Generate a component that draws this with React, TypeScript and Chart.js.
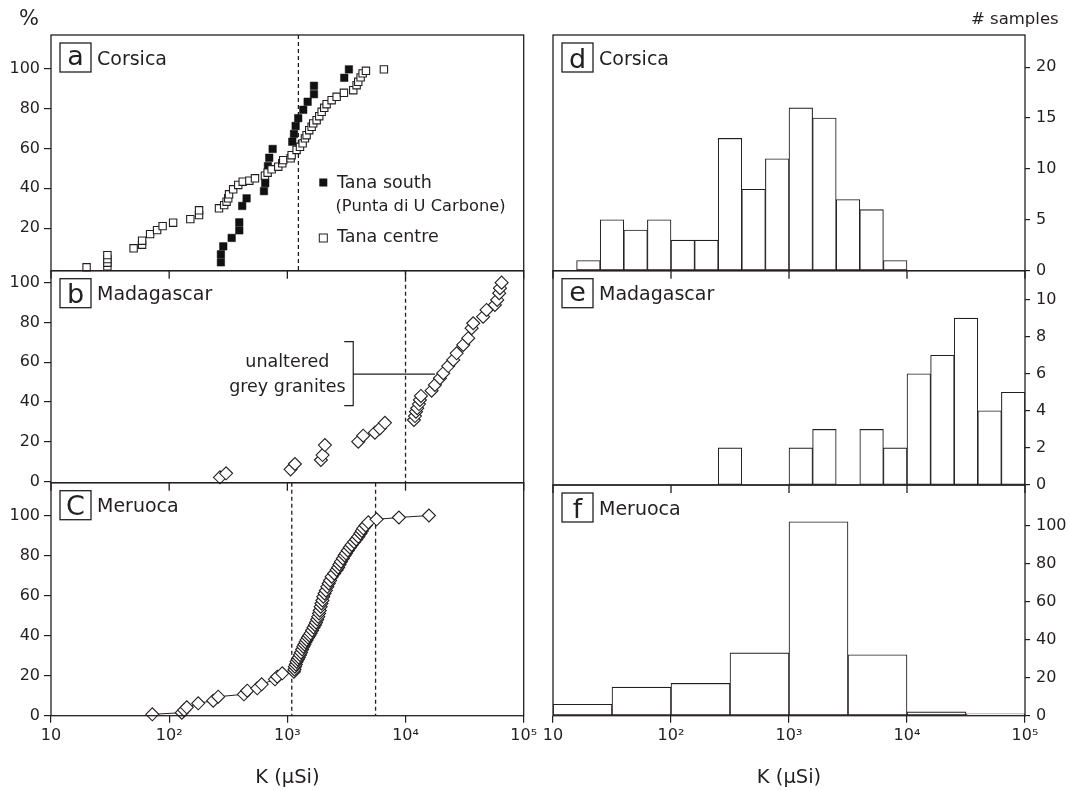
import React, { useEffect, useRef } from 'react';
import { Chart, registerables } from 'chart.js';

Chart.register(...registerables);

const FONT = "'DejaVu Sans', 'Liberation Sans', sans-serif";
const INK = '#231f20';

// ---------- axis ticks ----------
const kDecades = [10, 100, 1000, 10000, 100000];
const kDecadeLabels = ['10', '10²', '10³', '10⁴', '10⁵'];
const pctTicksTop = [20, 40, 60, 80, 100];
const pctTicks = [0, 20, 40, 60, 80, 100];
const countTicksCorsica = [0, 5, 10, 15, 20];
const countTicksMadagascar = [0, 2, 4, 6, 8, 10];
const countTicksMeruoca = [0, 20, 40, 60, 80, 100];

// ---------- (a) Corsica cumulative % ----------
const tanaSouthK = [274, 274, 287, 338, 392, 392, 415, 452, 634, 650, 685, 703, 751, 1101, 1138, 1175, 1236, 1363, 1485, 1680, 1680, 3030, 3318];
const tanaSouthPct = [3.0, 7.0, 11.0, 15.2, 19.0, 23.0, 31.2, 35.0, 38.6, 42.6, 51.1, 55.3, 59.7, 63.3, 67.2, 71.2, 75.1, 79.3, 83.3, 87.1, 91.3, 95.3, 99.5];
const tanaCentreK = [20, 30, 30, 30, 30, 50, 59, 59, 69, 79, 88, 108, 151, 179, 179, 264, 292, 306, 316, 321, 348, 384, 419, 477, 532, 646, 681, 736, 838, 906, 923, 1066, 1087, 1197, 1279, 1347, 1409, 1455, 1532, 1606, 1656, 1769, 1862, 1950, 2052, 2148, 2369, 2612, 3012, 3612, 3855, 3981, 4169, 4335, 4624, 6561];
const tanaCentrePct = [0.5, 1.0, 2.8, 4.6, 6.6, 10.0, 11.8, 13.8, 17.1, 19.1, 21.1, 22.8, 24.6, 26.6, 29.0, 30.0, 31.6, 33.3, 35.0, 37.0, 39.5, 41.7, 43.3, 43.8, 45.0, 46.3, 47.8, 49.5, 50.8, 52.5, 54.1, 55.0, 56.6, 59.2, 60.8, 62.5, 65.0, 66.6, 69.1, 70.8, 72.5, 74.1, 76.1, 78.3, 80.3, 82.1, 84.1, 85.8, 87.8, 89.1, 91.6, 93.3, 95.5, 97.5, 98.8, 99.5];
const corsicaRefK = [1240];

// ---------- (b) Madagascar cumulative % ----------
const madagascarK = [269, 303, 1066, 1159, 1923, 1986, 2078, 3981, 4385, 5508, 6068, 6692, 11780, 12020, 12260, 12560, 12980, 13240, 13500, 16620, 17740, 19550, 20850, 22980, 25350, 27050, 30780, 33940, 36230, 37410, 45400, 48500, 57060, 59700, 62060, 62950, 65060];
const madagascarPct = [2.2, 4.2, 6.2, 8.9, 10.9, 13.4, 18.4, 20.1, 23.1, 24.6, 26.8, 29.6, 31.0, 33.0, 35.2, 36.9, 39.0, 41.1, 43.1, 45.7, 48.6, 52.0, 54.5, 58.1, 61.2, 64.5, 68.7, 72.1, 77.1, 79.6, 82.9, 86.3, 88.8, 91.3, 94.7, 97.2, 100];
const madagascarRefK = [10000];
const graniteNoteLines = ['unaltered', 'grey granites'];
const graniteNoteK = 1000;
const graniteNotePct = [57.8, 45.2];
const graniteBracketK = 3610;
const graniteBracketPct = [70.4, 38.2];
const granitePointerPct = 54;
const granitePointerK = 17740;

// ---------- (c) Meruoca cumulative % ----------
const meruocaK = [72, 128, 134, 141, 176, 236, 260, 429, 458, 556, 606, 785, 822, 906, 1137, 1150, 1159, 1180, 1197, 1225, 1250, 1279, 1305, 1335, 1365, 1395, 1425, 1456, 1495, 1535, 1574, 1620, 1665, 1713, 1750, 1790, 1826, 1855, 1880, 1914, 1945, 1980, 2015, 2065, 2120, 2179, 2240, 2300, 2372, 2490, 2614, 2690, 2760, 2841, 2950, 3050, 3131, 3250, 3380, 3499, 3670, 3820, 3983, 4150, 4270, 4389, 4600, 4840, 5690, 8790, 15780];
const meruocaPct = [0.6, 1.4, 2.7, 4.1, 6.1, 7.4, 9.4, 10.6, 12.4, 13.6, 15.6, 18.1, 19.4, 21.1, 21.9, 23.0, 24.4, 25.5, 26.9, 28.0, 29.0, 30.3, 31.5, 33.0, 34.4, 35.5, 36.7, 37.8, 39.0, 40.0, 41.1, 42.5, 44.0, 45.3, 46.5, 48.0, 49.4, 51.0, 52.5, 54.4, 56.0, 57.5, 59.4, 61.0, 62.5, 64.4, 66.0, 67.5, 69.4, 71.0, 72.8, 74.0, 75.5, 76.9, 78.5, 80.0, 81.1, 82.5, 84.0, 85.3, 86.8, 88.0, 89.4, 91.0, 92.3, 93.6, 95.0, 96.6, 98.1, 99.0, 100];
const meruocaRefK = [1090, 5580];

// ---------- histograms (bin start as log10 K, bin width in decades) ----------
const corsicaBinStart = [1.2, 1.4, 1.6, 1.8, 2.0, 2.2, 2.4, 2.6, 2.8, 3.0, 3.2, 3.4, 3.6, 3.8];
const corsicaCounts = [1, 5, 4, 5, 3, 3, 13, 8, 11, 16, 15, 7, 6, 1];
const corsicaBinWidth = 0.2;
const madagascarBinStart = [2.4, 3.0, 3.2, 3.6, 3.8, 4.0, 4.2, 4.4, 4.6, 4.8];
const madagascarCounts = [2, 2, 3, 3, 2, 6, 7, 9, 4, 5];
const madagascarBinWidth = 0.2;
const meruocaBinStart = [1.0, 1.5, 2.0, 2.5, 3.0, 3.5, 4.0, 4.5];
const meruocaCounts = [6, 15, 17, 33, 102, 32, 2, 1];
const meruocaBinWidth = 0.5;

// ---------- layout ----------
const PAGE_W = 1070;
const PAGE_H = 791;
const LEFT_COL = { left: 51, right: 523.7 };
const RIGHT_COL = { left: 553, right: 1025 };
const Y_LEFT_W = 51;
const Y_RIGHT_W = 45;
const X_AXIS_H = 74;

type Panel = {
  kind: 'scatter' | 'hist';
  col: { left: number; right: number };
  top: number;
  bottom: number;
  yMin: number;
  yMax: number;
  yTicks: number[];
  showX: boolean;
  topTicks: boolean;
  letter: string;
  title: string;
  dashed?: number[];
  datasets: any[];
  extra?: (chart: any) => void;
};

const font = (size: number) => `${size}px ${FONT}`;

function pts(xs: number[], ys: number[]) {
  return xs.map((x, i) => ({ x, y: ys[i] }));
}

function histData(starts: number[], counts: number[], width: number) {
  return starts.map((s, i) => ({ x: Math.pow(10, s + width / 2), y: counts[i] }));
}

const openSquare = { pointStyle: 'rect', pointRadius: 5.2, pointBackgroundColor: '#fff', pointBorderColor: INK, pointBorderWidth: 1.1, showLine: false, clip: false };
const diamond = { pointStyle: 'rectRot', pointRadius: 6.5, pointBackgroundColor: '#fff', pointBorderColor: INK, pointBorderWidth: 1.1, clip: false };
const barStyle = { backgroundColor: '#fff', borderColor: INK, borderWidth: 1.1, barPercentage: 1, categoryPercentage: 1, borderSkipped: false };

function drawLegendA(chart: any) {
  const { ctx } = chart;
  ctx.save();
  ctx.fillStyle = '#111';
  ctx.fillRect(319.3, 178.5, 8, 8);
  ctx.fillStyle = '#fff';
  ctx.strokeStyle = INK;
  ctx.lineWidth = 1;
  ctx.fillRect(319.3, 234, 8, 8);
  ctx.strokeRect(319.3, 234, 8, 8);
  ctx.fillStyle = INK;
  ctx.textAlign = 'left';
  ctx.textBaseline = 'alphabetic';
  ctx.font = font(17.5);
  ctx.fillText('Tana south', 337, 187.7);
  ctx.fillText('Tana centre', 337, 242.3);
  ctx.font = font(16.3);
  ctx.fillText('(Punta di U Carbone)', 335.5, 210.5);
  ctx.font = font(21);
  ctx.fillText('%', 19, 25);
  ctx.restore();
}

function drawGraniteNote(chart: any) {
  const { ctx } = chart;
  const xs = chart.scales.x;
  const ys = chart.scales.y;
  ctx.save();
  ctx.fillStyle = INK;
  ctx.font = font(17.5);
  ctx.textAlign = 'center';
  ctx.textBaseline = 'alphabetic';
  const tx = xs.getPixelForValue(graniteNoteK);
  graniteNoteLines.forEach((t, i) => ctx.fillText(t, tx, ys.getPixelForValue(graniteNotePct[i])));
  const bx = xs.getPixelForValue(graniteBracketK);
  const y1 = ys.getPixelForValue(graniteBracketPct[0]);
  const y2 = ys.getPixelForValue(graniteBracketPct[1]);
  const yp = ys.getPixelForValue(granitePointerPct);
  ctx.strokeStyle = INK;
  ctx.lineWidth = 1.2;
  ctx.beginPath();
  ctx.moveTo(bx - 9, y1);
  ctx.lineTo(bx, y1);
  ctx.lineTo(bx, y2);
  ctx.lineTo(bx - 9, y2);
  ctx.moveTo(bx, yp);
  ctx.lineTo(xs.getPixelForValue(granitePointerK), yp);
  ctx.stroke();
  ctx.restore();
}

function drawSamplesLabel(chart: any) {
  const { ctx } = chart;
  ctx.save();
  ctx.fillStyle = INK;
  ctx.font = font(16.5);
  ctx.textAlign = 'left';
  ctx.textBaseline = 'alphabetic';
  ctx.fillText('# samples', 971, 24);
  ctx.restore();
}

const panels: Panel[] = [
  {
    kind: 'scatter', col: LEFT_COL, top: 35, bottom: 270.7, yMin: -1.2, yMax: 116.7, yTicks: pctTicksTop,
    showX: false, topTicks: false, letter: 'a', title: 'Corsica', dashed: corsicaRefK,
    datasets: [
      { label: 'Tana centre', data: pts(tanaCentreK, tanaCentrePct), ...openSquare },
      { label: 'Tana south', data: pts(tanaSouthK, tanaSouthPct), pointStyle: 'rect', pointRadius: 5.3, pointBackgroundColor: '#111', pointBorderColor: '#111', pointBorderWidth: 0.5, showLine: false, clip: false },
    ],
    extra: drawLegendA,
  },
  {
    kind: 'scatter', col: LEFT_COL, top: 270.7, bottom: 482.7, yMin: -0.5, yMax: 106, yTicks: pctTicks,
    showX: false, topTicks: true, letter: 'b', title: 'Madagascar', dashed: madagascarRefK,
    datasets: [{ label: 'Madagascar', data: pts(madagascarK, madagascarPct), ...diamond, showLine: false }],
    extra: drawGraniteNote,
  },
  {
    kind: 'scatter', col: LEFT_COL, top: 482.7, bottom: 715.7, yMin: -0.1, yMax: 116.4, yTicks: pctTicks,
    showX: true, topTicks: true, letter: 'C', title: 'Meruoca', dashed: meruocaRefK,
    datasets: [{ label: 'Meruoca', data: pts(meruocaK, meruocaPct), ...diamond, showLine: true, borderColor: INK, borderWidth: 1 }],
  },
  {
    kind: 'hist', col: RIGHT_COL, top: 35, bottom: 270.7, yMin: 0, yMax: 23.16, yTicks: countTicksCorsica,
    showX: false, topTicks: false, letter: 'd', title: 'Corsica',
    datasets: [{ label: 'Corsica', data: histData(corsicaBinStart, corsicaCounts, corsicaBinWidth), ...barStyle }],
    extra: drawSamplesLabel,
  },
  {
    kind: 'hist', col: RIGHT_COL, top: 270.7, bottom: 485, yMin: 0, yMax: 11.56, yTicks: countTicksMadagascar,
    showX: false, topTicks: true, letter: 'e', title: 'Madagascar',
    datasets: [{ label: 'Madagascar', data: histData(madagascarBinStart, madagascarCounts, madagascarBinWidth), ...barStyle }],
  },
  {
    kind: 'hist', col: RIGHT_COL, top: 485, bottom: 715.7, yMin: 0, yMax: 121.3, yTicks: countTicksMeruoca,
    showX: true, topTicks: true, letter: 'f', title: 'Meruoca',
    datasets: [{ label: 'Meruoca', data: histData(meruocaBinStart, meruocaCounts, meruocaBinWidth), ...barStyle }],
  },
];

function decorPlugin(p: Panel) {
  return {
    id: 'decor',
    beforeDatasetsDraw(chart: any) {
      const { ctx, chartArea: ca } = chart;
      const xs = chart.scales.x;
      ctx.save();
      ctx.strokeStyle = INK;
      ctx.lineWidth = 1.3;
      ctx.setLineDash([4, 3]);
      (p.dashed || []).forEach((k) => {
        const x = xs.getPixelForValue(k);
        ctx.beginPath();
        ctx.moveTo(x, ca.top);
        ctx.lineTo(x, ca.bottom);
        ctx.stroke();
      });
      ctx.restore();
    },
    afterDraw(chart: any) {
      const { ctx, chartArea: ca } = chart;
      const xs = chart.scales.x;
      ctx.save();
      ctx.strokeStyle = INK;
      ctx.lineWidth = 1.3;
      ctx.setLineDash([]);
      ctx.strokeRect(ca.left, ca.top, ca.right - ca.left, ca.bottom - ca.top);
      if (p.topTicks) {
        ctx.beginPath();
        kDecades.forEach((v) => {
          const x = xs.getPixelForValue(v);
          ctx.moveTo(x, ca.top);
          ctx.lineTo(x, ca.top + 8);
        });
        ctx.stroke();
      }
      // letter box
      const bx = ca.left + 9;
      const by = ca.top + 8;
      const bw = 31;
      const bh = 29;
      ctx.lineWidth = 1.3;
      ctx.strokeRect(bx, by, bw, bh);
      ctx.fillStyle = INK;
      ctx.font = font(27);
      ctx.textAlign = 'center';
      ctx.textBaseline = 'alphabetic';
      const m = ctx.measureText(p.letter);
      const asc = m.actualBoundingBoxAscent;
      const desc = m.actualBoundingBoxDescent;
      ctx.fillText(p.letter, bx + bw / 2, by + bh / 2 + (asc - desc) / 2);
      ctx.font = font(19);
      ctx.textAlign = 'left';
      ctx.fillText(p.title, ca.left + 46, ca.top + 29.5);
      ctx.restore();
      if (p.extra) p.extra(chart);
    },
  };
}

function buildConfig(p: Panel): any {
  const isLeft = p.col === LEFT_COL;
  const yW = isLeft ? Y_LEFT_W : Y_RIGHT_W;
  const padding = {
    left: isLeft ? p.col.left - yW : p.col.left,
    right: isLeft ? PAGE_W - p.col.right : PAGE_W - p.col.right - yW,
    top: p.top,
    bottom: p.showX ? PAGE_H - p.bottom - X_AXIS_H : PAGE_H - p.bottom,
  };
  const tickFont = { family: FONT, size: 16 };
  return {
    type: p.kind === 'hist' ? 'bar' : 'scatter',
    data: { datasets: p.datasets },
    options: {
      animation: false,
      responsive: false,
      maintainAspectRatio: false,
      events: [],
      layout: { padding },
      plugins: { legend: { display: false }, tooltip: { enabled: false }, title: { display: false } },
      scales: {
        x: {
          type: 'logarithmic',
          min: 10,
          max: 100000,
          offset: false,
          position: 'bottom',
          display: p.showX,
          afterBuildTicks: (s: any) => {
            s.ticks = kDecades.map((v) => ({ value: v, major: true }));
          },
          afterFit: (s: any) => {
            s.height = p.showX ? X_AXIS_H : 0;
          },
          ticks: {
            callback: (v: number) => {
              const i = kDecades.indexOf(Number(v));
              return i >= 0 ? kDecadeLabels[i] : '';
            },
            font: tickFont,
            color: INK,
            padding: 4,
            maxRotation: 0,
            minRotation: 0,
            autoSkip: false,
          },
          grid: { offset: false, drawOnChartArea: false, drawTicks: true, tickLength: 7, color: INK, lineWidth: 1.2 },
          border: { display: false },
          title: { display: p.showX, text: 'K (μSi)', font: { family: FONT, size: 19.5 }, color: INK, padding: { top: 0, bottom: 0 } },
        },
        y: {
          type: 'linear',
          min: p.yMin,
          max: p.yMax,
          position: isLeft ? 'left' : 'right',
          afterBuildTicks: (s: any) => {
            s.ticks = p.yTicks.map((v) => ({ value: v }));
          },
          afterFit: (s: any) => {
            s.width = yW;
          },
          ticks: {
            font: tickFont,
            color: INK,
            padding: isLeft ? 4 : 6,
            autoSkip: false,
            callback: (v: number) => String(v),
          },
          grid: { drawOnChartArea: false, drawTicks: true, tickLength: isLeft ? 7 : 5, color: INK, lineWidth: 1.2 },
          border: { display: false },
        },
      },
    },
    plugins: [decorPlugin(p)],
  };
}

export default function App() {
  const canvases = useRef<(HTMLCanvasElement | null)[]>([]);
  useEffect(() => {
    Chart.defaults.font.family = FONT;
    Chart.defaults.color = INK;
    const charts = panels.map((p, i) => new Chart(canvases.current[i] as HTMLCanvasElement, buildConfig(p)));
    return () => charts.forEach((c) => c.destroy());
  }, []);
  return (
    <div style={{ position: 'absolute', left: 0, top: 0, width: PAGE_W, height: PAGE_H, background: '#fff', overflow: 'hidden' }}>
      {panels.map((p, i) => (
        <canvas
          key={i}
          ref={(el) => {
            canvases.current[i] = el;
          }}
          width={PAGE_W}
          height={PAGE_H}
          style={{ position: 'absolute', left: 0, top: 0, width: PAGE_W, height: PAGE_H }}
        />
      ))}
    </div>
  );
}
